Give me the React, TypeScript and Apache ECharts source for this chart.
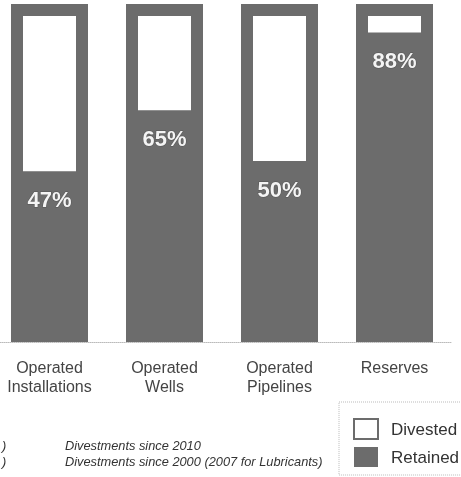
import React, { useEffect, useRef } from "react";
import * as echarts from "echarts";

const categories = ["Operated\nInstallations", "Operated\nWells", "Operated\nPipelines", "Reserves"];
const retained = [47, 65, 50, 88];
const divested = [53, 35, 50, 12];
const footnotes = ["Divestments since 2010", "Divestments since 2000 (2007 for Lubricants)"];

const DARK = "#6c6c6c";
const SHIFT = 8; // chart div starts 8px left of the page edge

export default function App() {
  const ref = useRef<HTMLDivElement>(null);
  useEffect(() => {
    if (!ref.current) return;
    const chart = echarts.init(ref.current, null, { renderer: "svg" });
    const note = { fontSize: 12.8, fontStyle: "italic", fill: "#333", fontFamily: "Liberation Sans, Arial, sans-serif" };
    chart.setOption({
      animation: false,
      textStyle: { fontFamily: "Liberation Sans, Arial, sans-serif" },
      grid: { left: 0, width: 460, top: 4, height: 338 },
      xAxis: {
        type: "category",
        data: categories,
        axisLine: { lineStyle: { color: "#bbb", type: "dotted", width: 1 } },
        axisTick: { show: false },
        axisLabel: { fontSize: 16, color: "#444", lineHeight: 19, margin: 16 },
      },
      yAxis: { type: "value", min: 0, max: 100, show: false },
      legend: {
        orient: "vertical",
        left: 339 + SHIFT,
        top: 402,
        itemWidth: 24,
        itemHeight: 20,
        itemGap: 7,
        padding: [16, 20, 8, 14],
        borderColor: "#bbb",
        borderType: "dotted",
        borderWidth: 1,
        icon: "rect",
        textStyle: { fontSize: 17, color: "#333", padding: [0, 0, 0, 8] },
        data: [
          { name: "Divested", itemStyle: { color: "#fff", borderColor: DARK, borderWidth: 2 } },
          { name: "Retained", itemStyle: { color: DARK, borderWidth: 0 } },
        ],
      },
      series: [
        {
          name: "Retained",
          type: "bar",
          stack: "s",
          barWidth: 77,
          data: retained,
          showBackground: true,
          backgroundStyle: { color: DARK },
          itemStyle: { color: DARK },
          label: {
            show: true,
            position: "insideTop",
            distance: 5,
            formatter: "{c}%",
            fontSize: 22,
            fontWeight: "bold",
            color: "#f4f4f4",
            textBorderColor: "#555",
            textBorderWidth: 1,
          },
        },
        {
          name: "Divested",
          type: "bar",
          stack: "s",
          barWidth: 77,
          data: divested,
          itemStyle: { color: "#fff", borderColor: DARK, borderWidth: 12 },
        },
      ],
      graphic: [
        { type: "text", left: 2 + SHIFT, top: 439, style: { ...note, text: ")" } },
        { type: "text", left: 2 + SHIFT, top: 455, style: { ...note, text: ")" } },
        { type: "text", left: 65 + SHIFT, top: 439, style: { ...note, text: footnotes[0] } },
        { type: "text", left: 65 + SHIFT, top: 455, style: { ...note, text: footnotes[1] } },
      ],
    });
    return () => chart.dispose();
  }, []);
  return <div ref={ref} style={{ position: "fixed", left: -SHIFT, top: 0, width: 461 + SHIFT, height: 477 }} />;
}
